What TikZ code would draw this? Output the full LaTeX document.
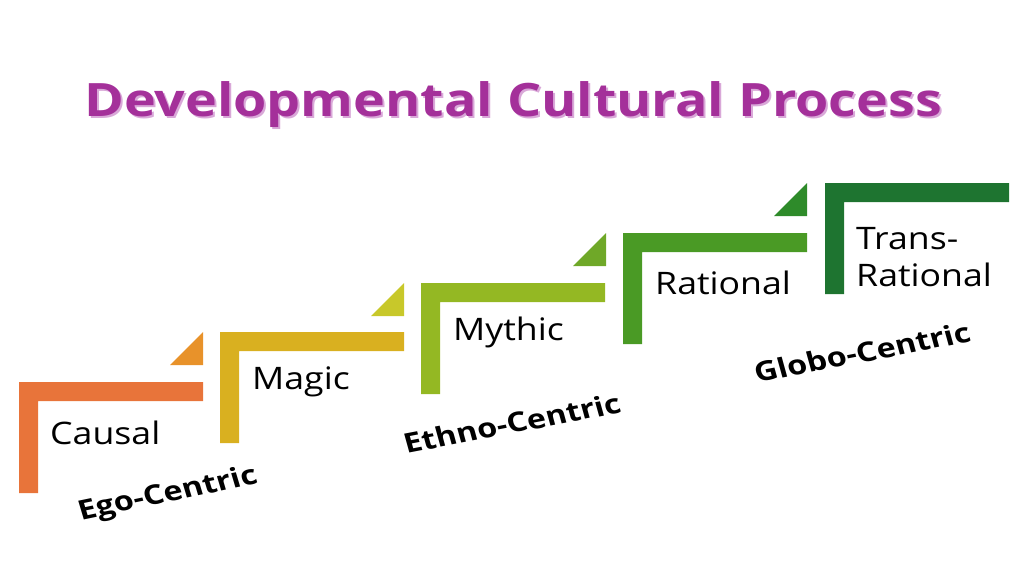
\documentclass[tikz,border=0pt]{standalone}
\usepackage{fontspec}
\setmainfont{Open Sans}
\definecolor{cA}{HTML}{E8743A}\definecolor{tA}{HTML}{E8922A}
\definecolor{cB}{HTML}{D9B020}\definecolor{tB}{HTML}{C8C82A}
\definecolor{cC}{HTML}{94B823}\definecolor{tC}{HTML}{6FA828}
\definecolor{cD}{HTML}{4A9A25}\definecolor{tD}{HTML}{2E8B2A}
\definecolor{cE}{HTML}{1E7430}
\definecolor{ttl}{HTML}{A4309A}\definecolor{ttls}{HTML}{D9A8D8}
\begin{document}
\begin{tikzpicture}[x=1pt,y=-1pt,
  lbl/.style={anchor=west,font=\fontsize{31}{35}\selectfont,text=black,inner sep=0pt,align=left,xscale=1.15},
  era/.style={font=\fontsize{27}{30}\selectfont\bfseries,text=black,inner sep=0pt,xscale=1.2},
  ttlf/.style={font=\fontsize{46}{50}\selectfont\bfseries,xscale=1.17}]
\useasboundingbox (0,0) rectangle (1024,576);
\newcommand\stepL[3]{\fill[#3] (#1,#2) -- (#1+184,#2) -- (#1+184,#2+19) -- (#1+19,#2+19) -- (#1+19,#2+111) -- (#1,#2+111) -- cycle;}
\newcommand\triT[3]{\fill[#3] (#1,#2+33) -- (#1+33,#2) -- (#1+33,#2+33) -- cycle;}
\stepL{19}{382}{cA}\stepL{220}{332}{cB}\stepL{421}{283}{cC}\stepL{623}{233}{cD}\stepL{825}{183}{cE}
\triT{170}{332}{tA}\triT{371}{283}{tB}\triT{573}{233}{tC}\triT{774}{183}{tD}
\node[ttlf,text=ttls] at (515,107) {Developmental Cultural Process};
\node[ttlf,text=ttl] (title) at (513,105) {Developmental Cultural Process};
\node[lbl] (causal) at (50,433) {Causal};
\node[lbl] (magic) at (252,382) {Magic};
\node[lbl] (mythic) at (453,332) {Mythic};
\node[lbl] (rational) at (655,283) {Rational};
\node[lbl,font=\fontsize{31}{37}\selectfont] (trans) at (856,257) {Trans-\\Rational};
\node[era,rotate=14] (ego) at (168,495) {Ego-Centric};
\node[era,rotate=13] (ethno) at (512,423) {Ethno-Centric};
\node[era,rotate=13] (globo) at (862,352) {Globo-Centric};
\end{tikzpicture}
\end{document}
